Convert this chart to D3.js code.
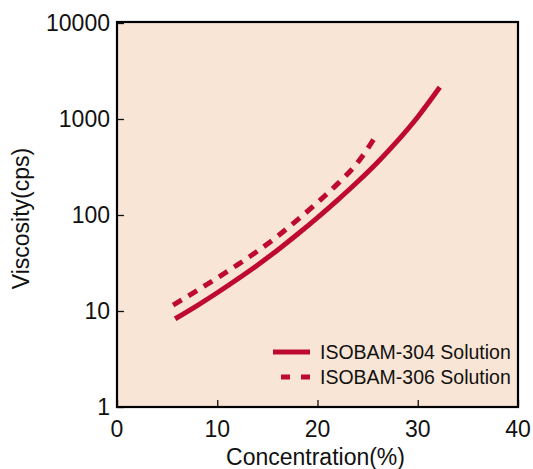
<!DOCTYPE html>
<html><head><meta charset="utf-8">
<script src="https://cdn.jsdelivr.net/npm/d3@7"></script>
<style>body{margin:0;background:#fff}svg{display:block}text{font-family:"Liberation Sans",Arial,sans-serif;fill:#111}</style>
</head><body><svg id="c" width="533" height="469"></svg>
<script>
const seriesNames = ["ISOBAM-304 Solution", "ISOBAM-306 Solution"];
const conc304 = [5.8, 8, 10, 12, 14, 16, 18, 20, 22, 24, 26, 28, 30, 32.2];
const visc304 = [8.3, 11.4, 15.5, 21.4, 30, 43, 63, 94, 143, 222, 355, 595, 1050, 2140];
const conc306 = [5.6, 8, 10, 12, 14, 16, 18, 20, 22, 24, 25.7];
const visc306 = [11.5, 16.4, 22.1, 30.2, 41.9, 60, 89, 135, 211, 351, 635];
const xTicks = [0, 10, 20, 30, 40];
const yTicks = [1, 10, 100, 1000, 10000];
const xTitle = "Concentration(%)";
const yTitle = "Viscosity(cps)";

const svg = d3.select("#c");
const L = 117, R = 518, T = 22, B = 407;
const x = d3.scaleLinear().domain([0, 40]).range([L, R]);
const y = d3.scaleLog().domain([1, 10000]).range([B, T + 1]);
const red = "#BF0A30";

svg.append("rect").attr("x", L).attr("y", T).attr("width", R - L).attr("height", B - T)
  .attr("fill", "#F9E5D5");

// inner ticks
const gx = svg.append("g").attr("transform", `translate(0,${B})`)
  .call(d3.axisTop(x).tickValues(xTicks).tickSize(7).tickFormat(""));
gx.select(".domain").remove();
gx.selectAll("line").attr("stroke", "#111").attr("stroke-width", 1.3);
const gy = svg.append("g").attr("transform", `translate(${L},0)`)
  .call(d3.axisRight(y).tickValues(yTicks).tickSize(7).tickFormat(""));
gy.select(".domain").remove();
gy.selectAll("line").attr("stroke", "#111").attr("stroke-width", 1.3);

// tick labels
svg.append("g").selectAll("text").data(xTicks).join("text")
  .attr("x", d => x(d)).attr("y", B + 30).attr("text-anchor", "middle")
  .attr("font-size", 23).text(d => d);
svg.append("g").selectAll("text").data(yTicks).join("text")
  .attr("x", L - 7).attr("y", d => y(d) + 8).attr("text-anchor", "end")
  .attr("font-size", 23).text(d => d);

svg.append("text").attr("x", (L + R) / 2 - 2).attr("y", 465).attr("text-anchor", "middle")
  .attr("font-size", 23).text(xTitle);
svg.append("text").attr("transform", `translate(29,${(T + B) / 2 + 4}) rotate(-90)`)
  .attr("text-anchor", "middle").attr("font-size", 23).text(yTitle);

const line = d3.line().x(d => x(d[0])).y(d => y(d[1])).curve(d3.curveMonotoneX);
svg.append("path").datum(d3.zip(conc304, visc304)).attr("d", line)
  .attr("fill", "none").attr("stroke", red).attr("stroke-width", 5);
svg.append("path").datum(d3.zip(conc306, visc306)).attr("d", line)
  .attr("fill", "none").attr("stroke", red).attr("stroke-width", 5).attr("stroke-dasharray", "10,8");

// legend
const lg = svg.append("g");
lg.append("line").attr("x1", 273).attr("x2", 310).attr("y1", 352).attr("y2", 352)
  .attr("stroke", red).attr("stroke-width", 5);
lg.append("line").attr("x1", 281).attr("x2", 311).attr("y1", 377).attr("y2", 377)
  .attr("stroke", red).attr("stroke-width", 5).attr("stroke-dasharray", "9,11");
lg.append("text").attr("x", 320).attr("y", 359).attr("font-size", 19.5).text(seriesNames[0]);
lg.append("text").attr("x", 320).attr("y", 384).attr("font-size", 19.5).text(seriesNames[1]);

svg.append("rect").attr("x", L).attr("y", T).attr("width", R - L).attr("height", B - T)
  .attr("fill", "none").attr("stroke", "#000").attr("stroke-width", 2.2);
</script></body></html>
